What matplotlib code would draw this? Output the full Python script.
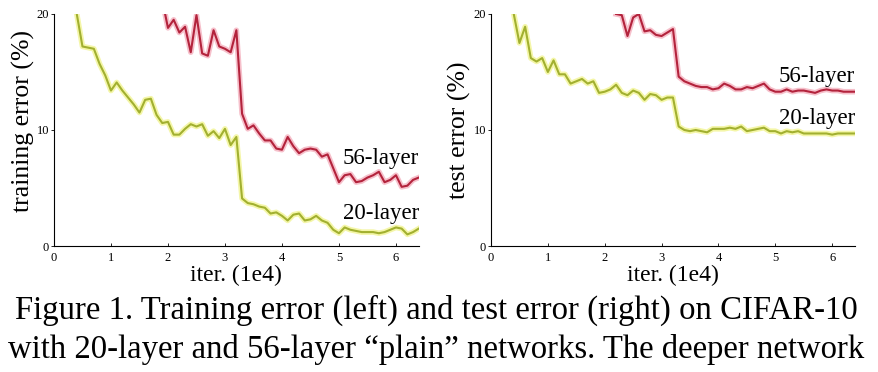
import matplotlib
matplotlib.use('Agg')
import matplotlib.pyplot as plt
import matplotlib.patheffects as pe

plt.rcParams['font.family'] = 'serif'
plt.rcParams['font.serif'] = ['Liberation Serif', 'DejaVu Serif']

### Data (x in units of 1e4 iterations, y in %)
train20_x = [0.4, 0.5, 0.6, 0.7, 0.8, 0.9, 1.0, 1.1, 1.2, 1.3, 1.4, 1.5, 1.6, 1.7, 1.8, 1.9,
             2.0, 2.1, 2.2, 2.3, 2.4, 2.5, 2.6, 2.7, 2.8, 2.9, 3.0, 3.1, 3.2, 3.3, 3.4, 3.5,
             3.6, 3.7, 3.8, 3.9, 4.0, 4.1, 4.2, 4.3, 4.4, 4.5, 4.6, 4.7, 4.8, 4.9, 5.0, 5.1,
             5.2, 5.3, 5.4, 5.5, 5.6, 5.7, 5.8, 5.9, 6.0, 6.1, 6.2, 6.3, 6.4]
train20_y = [20.0, 17.2, 17.1, 17.0, 15.7, 14.7, 13.4, 14.1, 13.4, 12.8, 12.2, 11.5, 12.6, 12.7, 11.3, 10.6,
             10.7, 9.6, 9.6, 10.1, 10.5, 10.3, 10.5, 9.5, 9.9, 9.3, 10.1, 8.7, 9.4, 4.1, 3.7, 3.6,
             3.4, 3.3, 2.8, 2.9, 2.6, 2.2, 2.7, 2.8, 2.2, 2.3, 2.6, 2.2, 2.0, 1.4, 1.1, 1.6,
             1.4, 1.3, 1.2, 1.2, 1.2, 1.1, 1.2, 1.4, 1.6, 1.5, 1.0, 1.2, 1.5]

train56_x = [1.95, 2.0, 2.1, 2.2, 2.3, 2.4, 2.5, 2.6, 2.7, 2.8, 2.9, 3.0, 3.1, 3.2, 3.3, 3.4,
             3.5, 3.6, 3.7, 3.8, 3.9, 4.0, 4.1, 4.2, 4.3, 4.4, 4.5, 4.6, 4.7, 4.8, 4.9, 5.0,
             5.1, 5.2, 5.3, 5.4, 5.5, 5.6, 5.7, 5.8, 5.9, 6.0, 6.1, 6.2, 6.3, 6.4]
train56_y = [20.0, 18.8, 19.5, 18.4, 18.9, 16.7, 19.9, 16.6, 16.4, 18.6, 17.2, 17.0, 16.7, 18.6, 11.4, 10.1,
             10.4, 9.7, 9.1, 9.1, 8.4, 8.3, 9.4, 8.6, 8.0, 8.3, 8.4, 8.3, 7.7, 7.9, 6.7, 5.5,
             6.1, 6.2, 5.5, 5.6, 5.9, 6.1, 6.4, 5.5, 5.7, 6.1, 5.1, 5.2, 5.7, 5.9]

test20_x = train20_x
test20_y = [20.0, 17.5, 18.9, 16.2, 15.9, 16.2, 15.0, 16.0, 14.8, 14.8, 14.0, 14.2, 14.4, 14.0, 14.2, 13.2,
            13.3, 13.5, 13.9, 13.2, 13.0, 13.4, 13.2, 12.6, 13.1, 13.0, 12.6, 12.8, 12.8, 10.3, 10.0, 9.9,
            10.0, 9.9, 9.8, 10.1, 10.1, 10.1, 10.2, 10.1, 10.3, 9.9, 10.0, 10.1, 10.2, 9.9, 9.9, 9.7,
            9.9, 9.8, 9.9, 9.7, 9.7, 9.7, 9.7, 9.7, 9.6, 9.7, 9.7, 9.7, 9.7]

test56_x = [2.2, 2.3, 2.4, 2.5, 2.6, 2.7, 2.8, 2.9, 3.0, 3.1, 3.2, 3.3, 3.4, 3.5, 3.6, 3.7,
            3.8, 3.9, 4.0, 4.1, 4.2, 4.3, 4.4, 4.5, 4.6, 4.7, 4.8, 4.9, 5.0, 5.1, 5.2, 5.3,
            5.4, 5.5, 5.6, 5.7, 5.8, 5.9, 6.0, 6.1, 6.2, 6.3, 6.4]
test56_y = [20.0, 19.9, 18.1, 19.7, 20.0, 18.5, 18.6, 18.2, 18.1, 18.4, 18.7, 14.6, 14.2, 14.0, 13.8, 13.7,
            13.7, 13.5, 13.6, 14.0, 13.8, 13.5, 13.5, 13.7, 13.6, 13.8, 14.0, 13.5, 13.3, 13.3, 13.5, 13.3,
            13.4, 13.4, 13.3, 13.2, 13.4, 13.5, 13.4, 13.4, 13.3, 13.3, 13.3]

xticks = [0, 1, 2, 3, 4, 5, 6]
yticks = [0, 10, 20]

red = '#b3233c'
red_glow = '#f6c0cb'
green = '#a2b030'
green_glow = '#f4f6a8'

def draw(ax, x20, y20, x56, y56, ylabel, ylab_pos, pos56, pos20):
    ax.plot(x20, y20, color=green, lw=1.5,
            path_effects=[pe.Stroke(linewidth=4, foreground=green_glow), pe.Normal()])
    ax.plot(x56, y56, color=red, lw=1.5,
            path_effects=[pe.Stroke(linewidth=4, foreground=red_glow), pe.Normal()])
    ax.set_xlim(0, 6.4)
    ax.set_ylim(0, 20)
    ax.set_xticks(xticks)
    ax.set_yticks(yticks)
    ax.tick_params(axis='x', labelsize=9, length=2.5, width=0.6, direction='in', pad=4)
    ax.tick_params(axis='y', labelsize=9, length=2.5, width=0.6, direction='out', pad=1)
    for s in ['top', 'right']:
        ax.spines[s].set_visible(False)
    for s in ['left', 'bottom']:
        ax.spines[s].set_linewidth(0.8)
    ax.set_xlabel('iter. (1e4)', fontsize=17, va='center')
    ax.xaxis.set_label_coords(0.5, -0.125)
    ax.set_ylabel(ylabel, fontsize=18.5, va='center')
    ax.yaxis.set_label_coords(ylab_pos[0], ylab_pos[1])
    ax.text(6.4, pos56, '56-layer', fontsize=16.5, ha='right', va='center')
    ax.text(6.4, pos20, '20-layer', fontsize=16.5, ha='right', va='center')

fig = plt.figure(figsize=(8.79, 3.72), dpi=100)
ax1 = fig.add_axes([0.0614, 0.3387, 0.415, 0.6237])
ax2 = fig.add_axes([0.5586, 0.3387, 0.414, 0.6237])

draw(ax1, train20_x, train20_y, train56_x, train56_y, 'training error (%)', (-0.085, 0.537), 7.56, 2.8)
draw(ax2, test20_x, test20_y, test56_x, test56_y, 'test error (%)', (-0.088, 0.5), 14.6, 11.0)

fig.text(0.4966, 0.1425, 'Figure 1. Training error (left) and test error (right) on CIFAR-10',
         fontsize=23.6, ha='center', va='baseline')
fig.text(0.4966, 0.0376, 'with 20-layer and 56-layer \u201cplain\u201d networks. The deeper network',
         fontsize=23.6, ha='center', va='baseline')

fig.savefig('out.png', dpi=100)
